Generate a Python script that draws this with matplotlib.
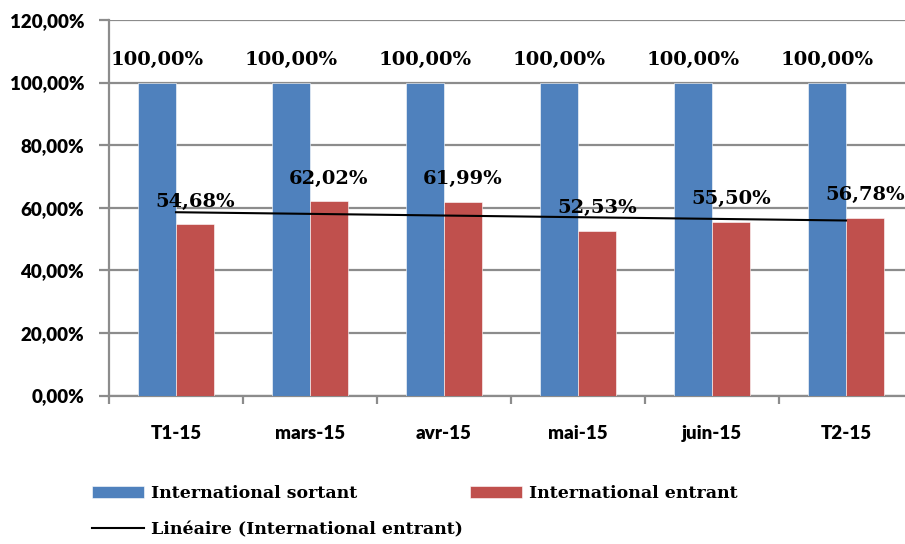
import numpy as np
import matplotlib.pyplot as plt
from matplotlib.ticker import FixedLocator, FuncFormatter

# Monthly / quarterly shares (%)
periodes = ['T1-15', 'mars-15', 'avr-15', 'mai-15', 'juin-15', 'T2-15']
sortant = [100.00, 100.00, 100.00, 100.00, 100.00, 100.00]
entrant = [54.68, 62.02, 61.99, 52.53, 55.50, 56.78]

BLEU = '#4F81BD'
ROUGE = '#C0504D'
GRILLE = '#8C8C8C'
SERIF = 'DejaVu Serif'
SANS = 'Lato'


def fr_pct(v, decimals=2):
    return f'{v:.{decimals}f}'.replace('.', ',') + '%'


fig = plt.figure(figsize=(9.05, 5.44), dpi=100)
ax = fig.add_axes([109 / 905, 148.5 / 544, 804 / 905, 375.5 / 544])

x = np.arange(len(periodes))
w = 0.283
b1 = ax.bar(x - w / 2, sortant, w, color=BLEU, edgecolor='white', linewidth=0.4,
            label='International sortant', zorder=3)
b2 = ax.bar(x + w / 2, entrant, w, color=ROUGE, edgecolor='white', linewidth=0.4,
            label='International entrant', zorder=3)

# linear trend of the incoming series
pente, orig = np.polyfit(x, entrant, 1)
tendance, = ax.plot(x, orig + pente * x, color='black', linewidth=1.5, zorder=4,
                    label='Linéaire (International entrant)')

# value labels
for bars, vals in ((b1, sortant), (b2, entrant)):
    for rect, v in zip(bars, vals):
        ax.annotate(fr_pct(v), (rect.get_x() + rect.get_width() / 2, v),
                    xytext=(0, 10), textcoords='offset points',
                    ha='center', va='bottom', fontsize=14,
                    fontweight='bold', family=SERIF, zorder=5)

ax.set_xlim(-0.5, 5.5)
ax.set_ylim(0, 120)
ax.yaxis.set_major_locator(FixedLocator(np.arange(0, 121, 20)))
ax.yaxis.set_major_formatter(FuncFormatter(lambda v, p: fr_pct(v)))
ax.set_xticks(x)
ax.set_xticklabels(periodes)
ax.xaxis.set_minor_locator(FixedLocator(np.arange(-0.5, 6, 1)))

ax.grid(axis='y', color=GRILLE, linewidth=1.6, zorder=0)
for s in ('top', 'right'):
    ax.spines[s].set_visible(False)
for s in ('left', 'bottom'):
    ax.spines[s].set_color(GRILLE)
    ax.spines[s].set_linewidth(1.6)

ax.tick_params(axis='y', length=7, width=1.6, color=GRILLE, pad=11)
ax.tick_params(axis='x', which='major', length=0, pad=21)
ax.tick_params(axis='x', which='minor', length=6, width=1.6, color=GRILLE)
for lab in ax.get_yticklabels():
    lab.set_fontfamily(SANS)
    lab.set_fontweight('heavy')
    lab.set_fontsize(13.5)
for lab in ax.get_xticklabels():
    lab.set_fontfamily(SANS)
    lab.set_fontweight('heavy')
    lab.set_fontsize(13.5)

fig.legend(handles=[b1, tendance, b2], ncol=2, loc='upper left',
           bbox_to_anchor=(92 / 905, 1 - 485 / 544), frameon=False,
           prop={'family': SERIF, 'weight': 'bold', 'size': 12.5},
           handlelength=3.0, handletextpad=0.4, columnspacing=0.4,
           labelspacing=1.1, borderpad=0, borderaxespad=0)

fig.savefig('out.png', dpi=100)
